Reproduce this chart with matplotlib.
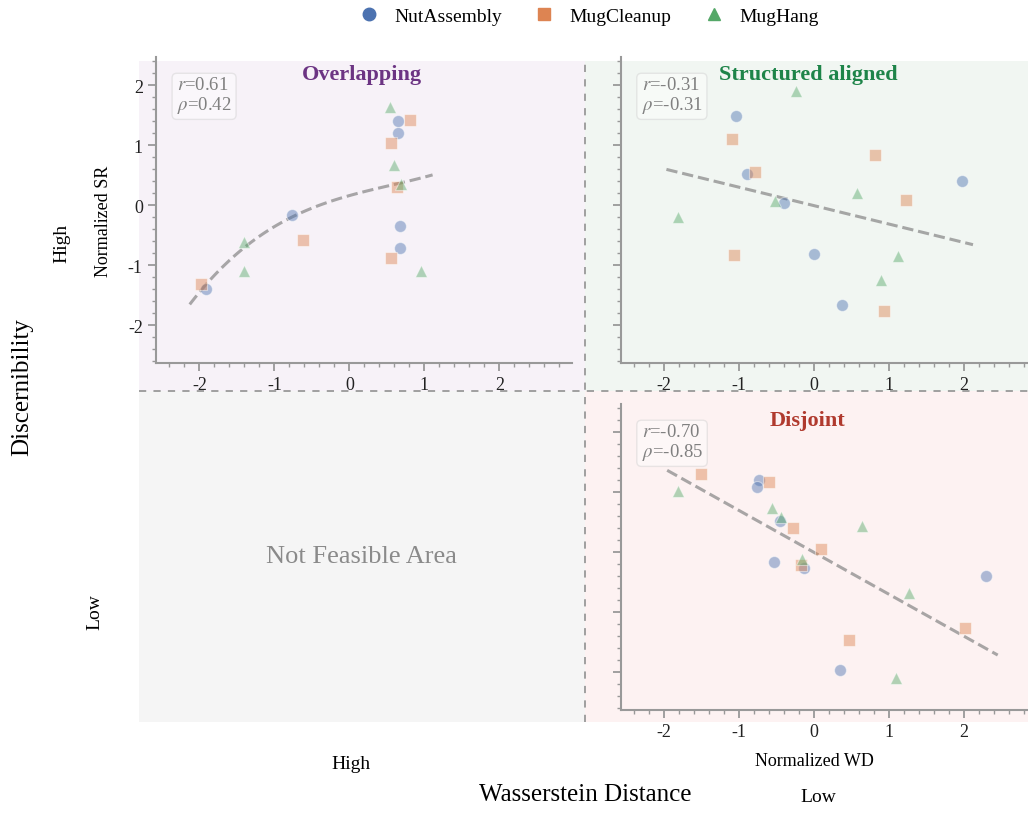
import numpy as np
import matplotlib
matplotlib.use("Agg")
import matplotlib.pyplot as plt
from matplotlib.lines import Line2D
from matplotlib.ticker import MultipleLocator

plt.rcParams["font.family"] = "serif"
plt.rcParams["font.serif"] = ["Liberation Serif", "DejaVu Serif"]
plt.rcParams["mathtext.fontset"] = "stix"
plt.rcParams["axes.unicode_minus"] = False

# ---------------------------------------------------------------
# Data (normalized wasserstein distance vs normalized success rate)
# ---------------------------------------------------------------
TASKS = ["NutAssembly", "MugCleanup", "MugHang"]
COLORS = ["#4c72b0", "#dd8452", "#55a868"]
MARKERS = ["o", "s", "^"]

# Overlapping: high WD / high discernibility
ovl_wd = [
    [0.65, 0.65, -0.77, 0.68, 0.67, -1.91],
    [0.81, 0.56, 0.63, -0.62, 0.56, -1.98],
    [0.54, 0.60, 0.69, -1.40, -1.41, 0.96],
]
ovl_sr = [
    [1.40, 1.20, -0.16, -0.35, -0.71, -1.40],
    [1.42, 1.03, 0.30, -0.58, -0.88, -1.31],
    [1.63, 0.67, 0.36, -0.61, -1.09, -1.09],
]
# saturating trend used for the overlapping regime (cubic coefficients)
ovl_trend_coef = [0.0614, -0.1042, 0.3509, 0.16]

# Structured aligned: low WD / high discernibility
sta_wd = [
    [-1.04, -0.89, -0.40, 0.00, 0.37, 1.97],
    [-1.10, -0.79, 0.81, 1.22, -1.07, 0.93],
    [-0.24, -0.52, 0.57, -1.82, 1.12, 0.89],
]
sta_sr = [
    [1.48, 0.52, 0.04, -0.81, -1.66, 0.40],
    [1.10, 0.55, 0.83, 0.09, -0.83, -1.76],
    [1.91, 0.07, 0.21, -0.19, -0.85, -1.24],
]

# Disjoint: low WD / low discernibility
dis_wd = [
    [-0.74, -0.76, -0.46, -0.54, -0.14, 2.30, 0.35],
    [-1.51, -0.60, -0.28, 0.09, -0.17, 2.01, 0.47],
    [-1.81, -0.56, -0.44, 0.64, -0.16, 1.26, 1.09],
]
dis_sr = [
    [1.20, 1.08, 0.52, -0.17, -0.27, -0.40, -1.97],
    [1.30, 1.16, 0.40, 0.05, -0.22, -1.27, -1.47],
    [1.01, 0.73, 0.58, 0.44, -0.11, -0.68, -2.10],
]

panel_titles = ["Overlapping", "Structured aligned", "Disjoint"]
panel_colors = ["#6c3483", "#1e8449", "#b03a2e"]
quadrant_bg = ["#f7f2f8", "#f1f6f2", "#f5f5f5", "#fdf2f2"]
pearson_r = [0.61, -0.31, -0.70]
spearman_rho = [0.42, -0.31, -0.85]

W, H = 1028, 837


def fig_xy(px, py):
    """Pixel position -> figure fraction."""
    return px / W, 1 - py / H


def add_axes_px(fig, left, top, right, bottom, **kw):
    x0, y1 = fig_xy(left, top)
    x1, y0 = fig_xy(right, bottom)
    return fig.add_axes([x0, y0, x1 - x0, y1 - y0], **kw)


def draw_panel(ax, wd, sr, idx, coef=None, show_ylabels=True):
    for xs, ys, c, m in zip(wd, sr, COLORS, MARKERS):
        ax.scatter(xs, ys, s=74, c=c, marker=m, alpha=0.45,
                   edgecolors="white", linewidths=0.8, zorder=3)

    all_x = np.concatenate(wd)
    all_y = np.concatenate(sr)
    if coef is None:
        coef = np.polyfit(all_x, all_y, 1)
    xf = np.linspace(all_x.min() - 0.15, all_x.max() + 0.15, 100)
    ax.plot(xf, np.polyval(coef, xf), ls="--", color="#8c8c8c",
            alpha=0.75, lw=2.2, zorder=2)

    ax.text(0.05, 0.938,
            f"$r$={pearson_r[idx]:.2f}\n$\\rho$={spearman_rho[idx]:.2f}",
            transform=ax.transAxes, ha="left", va="top", fontsize=13.5,
            color="#808080", linespacing=1.05,
            bbox=dict(boxstyle="round,pad=0.25", facecolor="white",
                      alpha=0.45, edgecolor="#cfcfcf"))

    ax.set_xlim(-2.58, 2.97)
    ax.set_ylim(-2.63, 2.47)
    ax.set_xticks([-2, -1, 0, 1, 2])
    ax.set_yticks([-2, -1, 0, 1, 2])
    ax.xaxis.set_minor_locator(MultipleLocator(0.2))
    ax.yaxis.set_minor_locator(MultipleLocator(0.2))
    ax.tick_params(which="major", direction="out", length=6, width=1.3,
                   color="#999999", labelsize=13, labelcolor="#222222")
    ax.tick_params(which="minor", direction="out", length=3, width=1.0,
                   color="#999999")
    ax.tick_params(labelleft=show_ylabels)
    for side in ("top", "right"):
        ax.spines[side].set_visible(False)
    for side in ("left", "bottom"):
        ax.spines[side].set_color("#999999")
        ax.spines[side].set_linewidth(1.5)
    ax.set_facecolor("none")


fig = plt.figure(figsize=(W / 100, H / 100), dpi=100)

# quadrant backdrop
bg = add_axes_px(fig, 138.5, 62, 1031.5, 722.5)
bg.set_xlim(0, 1)
bg.set_ylim(0, 1)
bg.axis("off")
bg.axvspan(0, 0.5, 0.5, 1, color=quadrant_bg[0], lw=0)
bg.axvspan(0.5, 1, 0.5, 1, color=quadrant_bg[1], lw=0)
bg.axvspan(0, 0.5, 0, 0.5, color=quadrant_bg[2], lw=0)
bg.axvspan(0.5, 1, 0, 0.5, color=quadrant_bg[3], lw=0)
bg.axvline(0.5, color="#999999", lw=1.3, dashes=(4, 4))
bg.axhline(0.5, color="#999999", lw=1.3, dashes=(4, 4))
bg.text(0.25, 0.25, "Not Feasible Area", ha="center", va="center",
        fontsize=19, color="#8a8a8a")

ax_ovl = add_axes_px(fig, 156, 58, 572, 364)
ax_sta = add_axes_px(fig, 620.7, 58, 1036.7, 364)
ax_dis = add_axes_px(fig, 620.7, 405, 1036.7, 710.5)

draw_panel(ax_ovl, ovl_wd, ovl_sr, 0, coef=ovl_trend_coef)
draw_panel(ax_sta, sta_wd, sta_sr, 1, show_ylabels=False)
draw_panel(ax_dis, dis_wd, dis_sr, 2, show_ylabels=False)

# panel titles, centred on each quadrant
for (px, py), title, color in zip([(362, 75), (808, 75), (808, 421)],
                                  panel_titles, panel_colors):
    fig.text(*fig_xy(px, py), title, ha="center", va="center",
             fontsize=16, fontweight="bold", color=color)

# axis captions
fig.text(*fig_xy(103, 221), "Normalized SR", rotation=90,
         ha="center", va="center", fontsize=13)
fig.text(*fig_xy(814, 762), "Normalized WD", ha="center", va="center",
         fontsize=13)
fig.text(*fig_xy(62, 243), "High", rotation=90, ha="center", va="center",
         fontsize=14)
fig.text(*fig_xy(95, 612), "Low", rotation=90, ha="center", va="center",
         fontsize=14)
fig.text(*fig_xy(351, 765), "High", ha="center", va="center", fontsize=14)
fig.text(*fig_xy(818, 798), "Low", ha="center", va="center", fontsize=14)
fig.text(*fig_xy(22, 387), "Discernibility", rotation=90,
         ha="center", va="center", fontsize=18)
fig.text(*fig_xy(585, 795), "Wasserstein Distance", ha="center",
         va="center", fontsize=18)

handles = [Line2D([], [], ls="none", marker=m, color=c, markersize=9)
           for m, c in zip(MARKERS, COLORS)]
fig.legend(handles, TASKS, loc="center", bbox_to_anchor=fig_xy(589, 17),
           ncol=3, frameon=False, fontsize=14, handlelength=1.0,
           handletextpad=0.8, columnspacing=1.7)

fig.savefig("out.png", dpi=100)
